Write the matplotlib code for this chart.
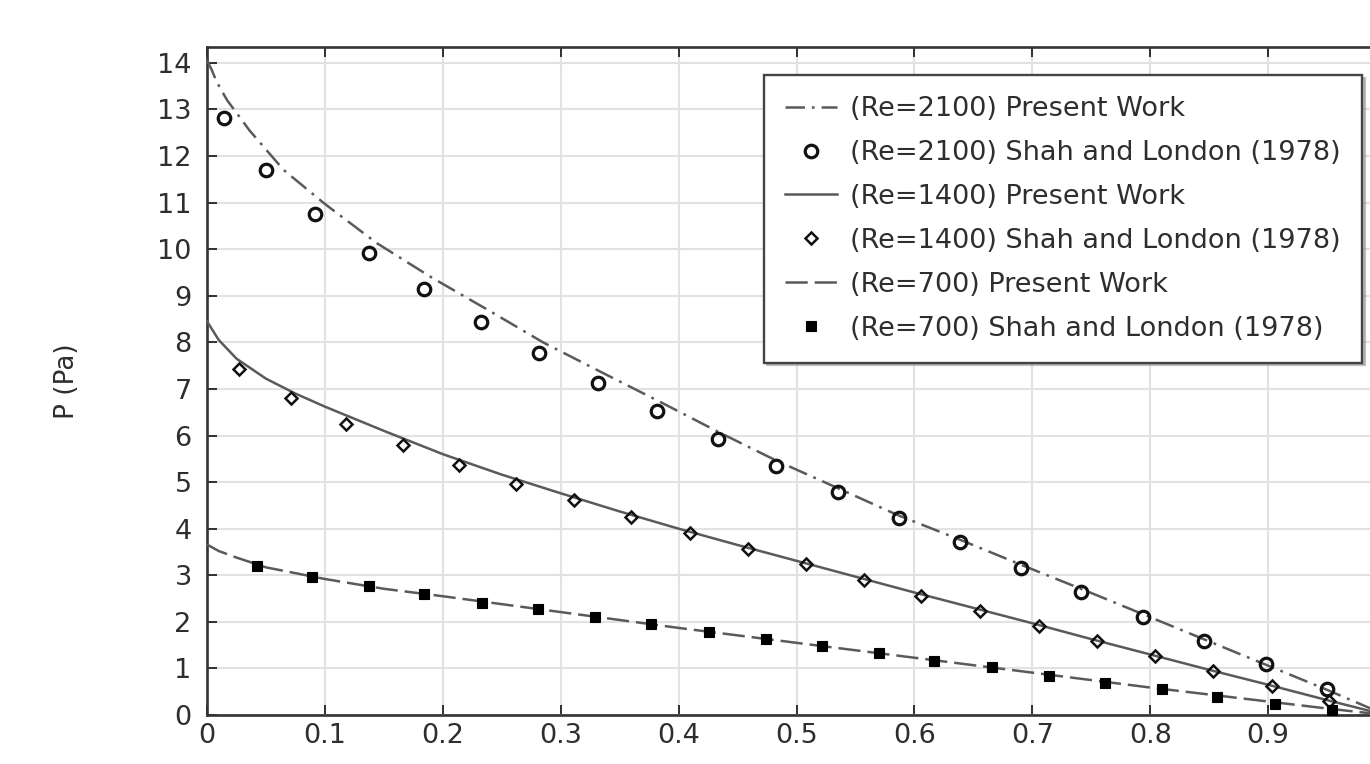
import matplotlib
matplotlib.use("Agg")
import matplotlib.pyplot as plt

plt.rcParams['font.family'] = ['DejaVu Sans']
plt.rcParams['lines.scale_dashes'] = False

# present work curves
x_2100 = [0, 0.004, 0.008, 0.017, 0.036, 0.065, 0.1, 0.144, 0.19, 0.24, 0.285, 0.336,
          0.386, 0.435, 0.483, 0.535, 0.586, 0.639, 0.691, 0.75, 0.8, 0.85, 0.9, 0.95, 1.0]
p_2100 = [14.05, 13.85, 13.6, 13.2, 12.55, 11.7, 10.97, 10.13, 9.4, 8.67, 8.0, 7.34,
          6.7, 6.06, 5.46, 4.87, 4.29, 3.76, 3.22, 2.62, 2.1, 1.58, 1.06, 0.54, 0.0]

x_1400 = [0, 0.01, 0.025, 0.05, 0.075, 0.1, 0.125, 0.15, 0.2, 0.25, 0.3, 0.35, 0.4,
          0.45, 0.5, 0.55, 0.6, 0.65, 0.7, 0.75, 0.8, 0.85, 0.9, 0.95, 1.0]
p_1400 = [8.45, 8.05, 7.65, 7.22, 6.9, 6.62, 6.36, 6.1, 5.6, 5.16, 4.76, 4.37, 4.0,
          3.65, 3.31, 2.97, 2.63, 2.3, 1.97, 1.63, 1.3, 0.97, 0.65, 0.32, 0.0]

x_700 = [0, 0.01, 0.025, 0.05, 0.1, 0.15, 0.2, 0.25, 0.3, 0.35, 0.4, 0.45, 0.5,
         0.55, 0.6, 0.65, 0.7, 0.75, 0.8, 0.85, 0.9, 0.95, 1.0]
p_700 = [3.66, 3.52, 3.38, 3.17, 2.92, 2.71, 2.55, 2.38, 2.21, 2.04, 1.87, 1.71, 1.55,
         1.39, 1.23, 1.07, 0.91, 0.75, 0.59, 0.44, 0.29, 0.14, 0.0]

# Shah and London (1978) points
sx_2100 = [0.014, 0.05, 0.092, 0.137, 0.184, 0.232, 0.282, 0.332, 0.382, 0.433,
           0.483, 0.535, 0.587, 0.639, 0.69, 0.741, 0.794, 0.846, 0.898, 0.95]
sp_2100 = [12.81, 11.70, 10.75, 9.91, 9.14, 8.43, 7.77, 7.12, 6.52, 5.92,
           5.34, 4.79, 4.23, 3.71, 3.15, 2.64, 2.10, 1.59, 1.09, 0.56]

sx_1400 = [0.027, 0.071, 0.118, 0.166, 0.214, 0.262, 0.311, 0.36, 0.41, 0.459,
           0.508, 0.557, 0.606, 0.656, 0.706, 0.755, 0.804, 0.853, 0.903, 0.952]
sp_1400 = [7.42, 6.80, 6.24, 5.79, 5.36, 4.96, 4.61, 4.25, 3.91, 3.56,
           3.24, 2.90, 2.55, 2.23, 1.91, 1.59, 1.27, 0.94, 0.62, 0.30]

sx_700 = [0.042, 0.089, 0.137, 0.184, 0.233, 0.281, 0.329, 0.377, 0.426, 0.474,
          0.522, 0.57, 0.617, 0.666, 0.714, 0.762, 0.81, 0.857, 0.906, 0.954]
sp_700 = [3.20, 2.96, 2.77, 2.60, 2.40, 2.27, 2.10, 1.95, 1.78, 1.63,
          1.48, 1.33, 1.16, 1.03, 0.84, 0.69, 0.56, 0.39, 0.24, 0.11]

xticks = [0, 0.1, 0.2, 0.3, 0.4, 0.5, 0.6, 0.7, 0.8, 0.9]
yticks = list(range(0, 15))

line_col = '#5a5a5a'
txt_col = '#2e2e2e'

fig = plt.figure(figsize=(13.7, 7.64), dpi=100)
ax = fig.add_axes([0.1511, 0.0641, 0.8606, 0.8744])

ax.plot(x_2100, p_2100, color=line_col, lw=1.8, dashes=(14, 5, 2, 5),
        label='(Re=2100) Present Work', zorder=3)
ax.plot(sx_2100, sp_2100, ls='none', marker='o', ms=9, mew=2.3, mfc='none',
        mec='#111111', label='(Re=2100) Shah and London (1978)', zorder=4)
ax.plot(x_1400, p_1400, color=line_col, lw=1.8, ls='-',
        label='(Re=1400) Present Work', zorder=3)
ax.plot(sx_1400, sp_1400, ls='none', marker='D', ms=6.6, mew=1.8, mfc='none',
        mec='#111111', label='(Re=1400) Shah and London (1978)', zorder=4)
ax.plot(x_700, p_700, color=line_col, lw=1.8, dashes=(16, 5),
        label='(Re=700) Present Work', zorder=3)
ax.plot(sx_700, sp_700, ls='none', marker='s', ms=7, mew=0.8, mfc='#000000',
        mec='#000000', label='(Re=700) Shah and London (1978)', zorder=4)

ax.set_xlim(0, 1.0)
ax.set_ylim(0, 14.34)
ax.set_xticks(xticks)
ax.set_xticklabels(['0'] + ['%.1f' % t for t in xticks[1:]])
ax.set_yticks(yticks)

ax.grid(True, color='#e2e2e2', lw=1.5, zorder=0)
ax.set_axisbelow(True)

for s in ax.spines.values():
    s.set_color('#333333')
    s.set_linewidth(1.9)

ax.tick_params(axis='both', direction='in', length=7, width=1.3, color='#222222',
               labelsize=19.5, labelcolor=txt_col, top=True, right=True)
ax.tick_params(axis='x', pad=6)
ax.tick_params(axis='y', pad=11)

ax.set_ylabel('P (Pa)', fontsize=19, color=txt_col)
ax.yaxis.set_label_coords(-0.108, 0.5)

leg = ax.legend(loc='upper right', bbox_to_anchor=(1362 / 1370, (764 - 75) / 764),
                bbox_transform=fig.transFigure, borderaxespad=0, fontsize=19.5,
                fancybox=False, shadow={'color': '0.55'}, framealpha=1,
                handlelength=1.9, handletextpad=0.5, borderpad=0.78, labelspacing=0.66)
leg.get_frame().set_edgecolor('#444444')
leg.get_frame().set_linewidth(1.7)
for t in leg.get_texts():
    t.set_color(txt_col)

fig.savefig('out.png', dpi=100)
